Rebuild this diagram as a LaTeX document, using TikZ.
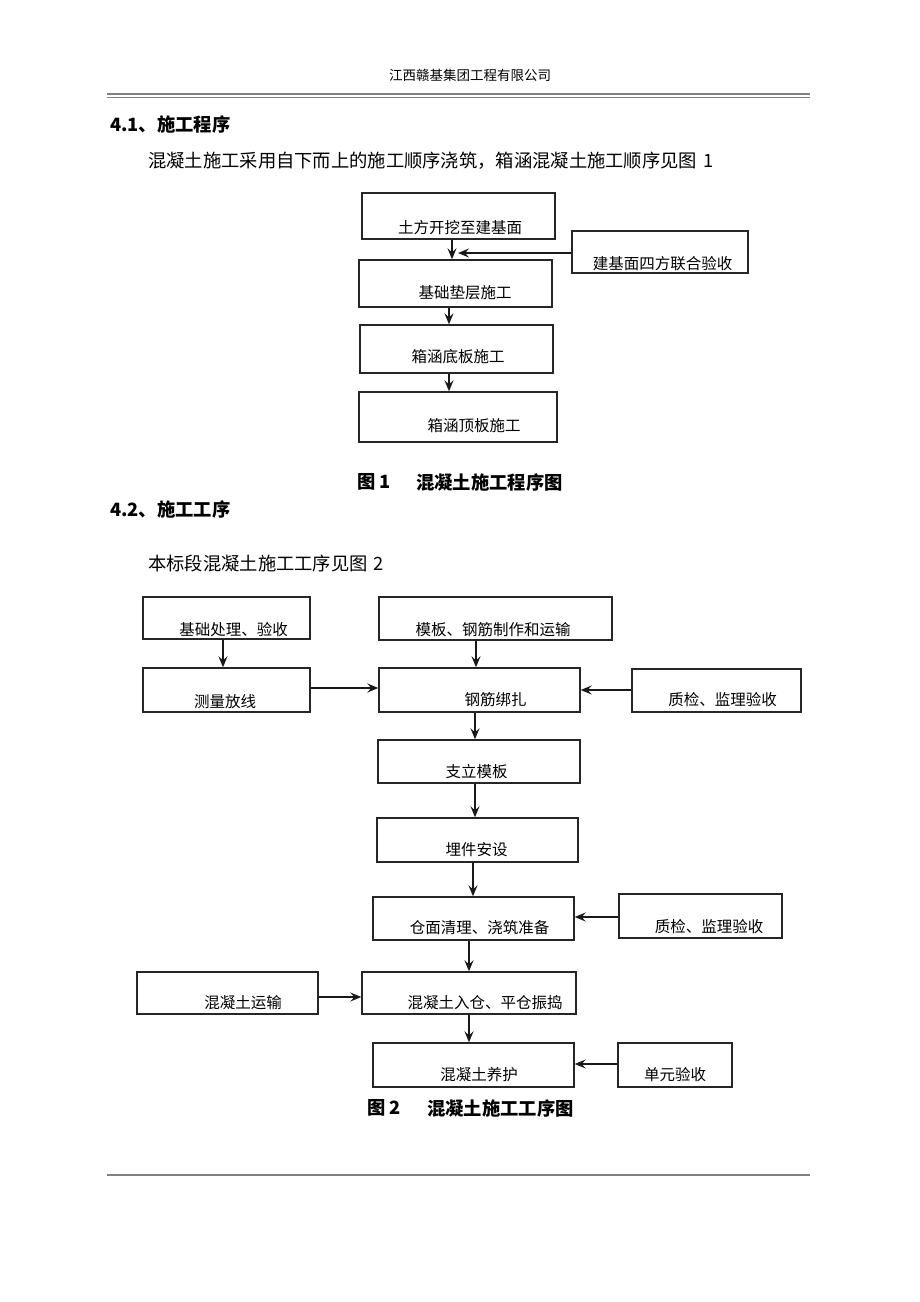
\documentclass[tikz,border=0pt]{standalone}
\usepackage{fontspec}
\setmainfont{Noto Sans CJK SC}
\usetikzlibrary{arrows.meta}
\tikzset{
  box/.style 2 args={draw=black!85, line width=1.4pt, inner sep=0pt, minimum width=#1pt, minimum height=#2pt},
  txt/.style={inner sep=0pt, font=\fontsize{15.5}{18}\selectfont},
  body/.style={inner sep=0pt, anchor=west, font=\fontsize{18.3}{21}\selectfont},
  head/.style={inner sep=0pt, anchor=west, font=\fontsize{18.3}{21}\selectfont\bfseries},
  hdr/.style={inner sep=0pt, font=\fontsize{13.5}{15}\selectfont},
  arr/.style={line width=1.5pt, black!90, -{Stealth[length=11pt,width=9pt,inset=4pt]}},
  rule/.style={draw=gray, line cap=butt}
}
\begin{document}
\begin{tikzpicture}[x=1pt,y=-1pt]
\useasboundingbox (0,0) rectangle (920,1302);
\fill[white] (0,0) rectangle (920,1302);

% header and footer
\node[hdr] (hdr) at (470,75) {江西赣基集团工程有限公司};
\draw[rule, line width=2.5pt] (107,94) -- (810,94);
\draw[rule, line width=1pt] (107,97.5) -- (810,97.5);
\draw[rule, line width=1.3pt] (107,1175) -- (810,1175);

% section 4.1
\node[head] (h1) at (110,124) {4.1、施工程序};
\node[body] (p1) at (148,161) {混凝土施工采用自下而上的施工顺序浇筑，箱涵混凝土施工顺序见图\,\,1};

% figure 1
\node[box={193}{46}] (b1) at (458.5,216) {};
\node[txt] (tb1) at (460,228) {土方开挖至建基面};
\node[box={176}{42}] (s1) at (660,252) {};
\node[txt] (ts1) at (662.5,264) {建基面四方联合验收};
\node[box={193}{47}] (b2) at (455.5,283.5) {};
\node[txt] (tb2) at (465,293) {基础垫层施工};
\node[box={193}{48}] (b3) at (456.5,349) {};
\node[txt] (tb3) at (458,357) {箱涵底板施工};
\node[box={198}{50}] (b4) at (458,417) {};
\node[txt] (tb4) at (474,426) {箱涵顶板施工};

\draw[arr] ([xshift=-6.5pt]b1.south) -- ([xshift=-6.5pt]b1.south |- b2.north);
\draw[arr] ([xshift=-6.5pt]b2.south) -- ([xshift=-6.5pt]b2.south |- b3.north);
\draw[arr] ([xshift=-7.5pt]b3.south) -- ([xshift=-7.5pt]b3.south |- b4.north);
\coordinate (j1) at (458,253);
\draw[arr] (s1.west |- j1) -- (j1);

\node[head] (c1a) at (357,482) {图 1};
\node[head] (c1b) at (416,482) {混凝土施工程序图};

% section 4.2
\node[head] (h2) at (110,509) {4.2、施工工序};
\node[body] (p2) at (148,564) {本标段混凝土施工工序见图\,\,2};

% figure 2
\node[box={167}{42}] (A) at (226.5,618) {};
\node[txt] (tA) at (233.5,630) {基础处理、验收};
\node[box={233}{43}] (B) at (495.5,618.5) {};
\node[txt] (tB) at (493,630) {模板、钢筋制作和运输};
\node[box={167}{44}] (C) at (226.5,690) {};
\node[txt] (tC) at (225,702) {测量放线};
\node[box={201}{44}] (D) at (479.5,690) {};
\node[txt] (tD) at (495.5,700) {钢筋绑扎};
\node[box={169}{43}] (E) at (716.5,690.5) {};
\node[txt] (tE) at (722.5,700) {质检、监理验收};
\node[box={202}{43}] (F) at (479,761.5) {};
\node[txt] (tF) at (476.5,772) {支立模板};
\node[box={201}{44}] (G) at (477.5,840) {};
\node[txt] (tG) at (476.5,850) {埋件安设};
\node[box={201}{43}] (H) at (473.5,918.5) {};
\node[txt] (tH) at (479.5,928) {仓面清理、浇筑准备};
\node[box={163}{44}] (I) at (700.5,916) {};
\node[txt] (tI) at (709,927) {质检、监理验收};
\node[box={181}{42}] (K) at (227.5,993) {};
\node[txt] (tK) at (243,1003) {混凝土运输};
\node[box={214}{42}] (J) at (469,993) {};
\node[txt] (tJ) at (485,1003) {混凝土入仓、平仓振捣};
\node[box={201}{44}] (L) at (473.5,1065) {};
\node[txt] (tL) at (479,1075) {混凝土养护};
\node[box={114}{44}] (M) at (675,1065) {};
\node[txt] (tM) at (675,1075) {单元验收};

\draw[arr] ([xshift=-3.5pt]A.south) -- ([xshift=-3.5pt]A.south |- C.north);
\draw[arr] ([yshift=2pt]C.east) -- ([yshift=2pt]C.east -| D.west);
\draw[arr] ([xshift=-19.5pt]B.south) -- ([xshift=-19.5pt]B.south |- D.north);
\draw[arr] ([yshift=0.5pt]E.west) -- ([yshift=0.5pt]E.west -| D.east);
\draw[arr] ([xshift=-4.5pt]D.south) -- ([xshift=-4.5pt]D.south |- F.north);
\draw[arr] ([xshift=-4pt]F.south) -- ([xshift=-4pt]F.south |- G.north);
\draw[arr] ([xshift=-4.5pt]G.south) -- ([xshift=-4.5pt]G.south |- H.north);
\draw[arr] ([yshift=-1pt]I.west) -- ([yshift=-1pt]I.west -| H.east);
\draw[arr] ([xshift=-4.5pt]H.south) -- ([xshift=-4.5pt]H.south |- J.north);
\draw[arr] ([yshift=-4pt]K.east) -- ([yshift=-4pt]K.east -| J.west);
\draw[arr] (J.south) -- (J.south |- L.north);
\draw[arr] ([yshift=1pt]M.west) -- ([yshift=1pt]M.west -| L.east);

\node[head] (c2a) at (367,1108) {图 2};
\node[head] (c2b) at (427,1108) {混凝土施工工序图};
\end{tikzpicture}
\end{document}
